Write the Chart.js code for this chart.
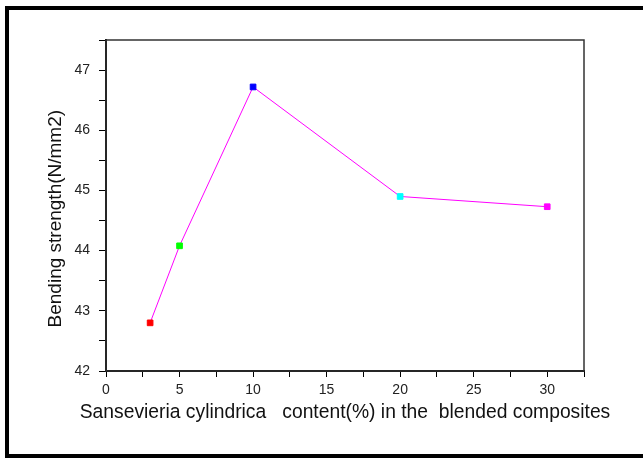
<!DOCTYPE html>
<html lang="en">
<head>
    <title>Bending strength</title>
    <script src="https://cdn.jsdelivr.net/npm/chart.js"></script>
    <style>
        body { margin: 0; background: #fff; overflow: hidden; }
        #wrap { position: relative; width: 643px; height: 458px; overflow: hidden; }
        #frame { position: absolute; left: 5px; top: 6px; width: 650px; height: 444px;
                 border-left: 4px solid #000; border-top: 4px solid #000; border-bottom: 4px solid #000;
                 pointer-events: none; }
        canvas { display: block; }
    </style>
</head>
<body>
    <div id="wrap">
        <canvas id="chart" width="643" height="458"></canvas>
        <div id="frame"></div>
    </div>

    <script>
        // fibre content (%) and bending strength (N/mm2)
        var content = [3, 5, 10, 20, 30];
        var strength = [42.8, 44.08, 46.72, 44.9, 44.73];
        var pointColors = ['#ff0000', '#00ff00', '#0000ff', '#00ffff', '#ff00ff'];

        var xLabels = [0, 5, 10, 15, 20, 25, 30];
        var yLabels = [42, 43, 44, 45, 46, 47];
        var xTitle = 'Sansevieria cylindrica   content(%) in the  blended composites';
        var yTitle = 'Bending strength(N/mm2)';

        var font = "'Liberation Sans', Arial, sans-serif";

        // box around the plot area (top and right sides have no ticks),
        // plus the x title, which is wider than the plot and would be squeezed by the scale
        var boxPlugin = {
            id: 'box',
            afterDraw: function(chart) {
                var a = chart.chartArea, ctx = chart.ctx;
                ctx.save();
                ctx.strokeStyle = '#333';
                ctx.lineWidth = 1.5;
                ctx.strokeRect(a.left, a.top, a.right - a.left, a.bottom - a.top);

                ctx.fillStyle = '#111';
                ctx.font = '19.3px ' + font;
                ctx.textAlign = 'center';
                ctx.textBaseline = 'middle';
                ctx.fillText(xTitle, (a.left + a.right) / 2, a.bottom + 42);
                ctx.restore();
            }
        };

        var ctx = document.getElementById('chart').getContext('2d');
        var chart = new Chart(ctx, {
            type: 'scatter',
            data: {
                datasets: [{
                    data: content.map(function(c, i) { return { x: c, y: strength[i] }; }),
                    showLine: true,
                    borderColor: '#ff00ff',
                    borderWidth: 1,
                    pointStyle: 'rect',
                    pointRadius: 4,
                    pointBackgroundColor: pointColors,
                    pointBorderColor: pointColors,
                    pointBorderWidth: 1
                }]
            },
            options: {
                responsive: false,
                animation: false,
                layout: { padding: { left: 0, top: 40, right: 59, bottom: 0 } },
                plugins: { legend: { display: false }, tooltip: { enabled: false } },
                scales: {
                    x: {
                        min: 0, max: 32.5,
                        afterFit: function(s) { s.height = 87; },
                        grid: { drawOnChartArea: false, drawTicks: true, tickLength: 6, color: '#000' },
                        border: { color: '#000', width: 2 },
                        ticks: {
                            stepSize: 2.5, autoSkip: false, maxRotation: 0, padding: 5,
                            color: '#222', font: { family: font, size: 14 },
                            callback: function(v) { return xLabels.indexOf(v) >= 0 ? String(v) : ''; }
                        }
                    },
                    y: {
                        min: 42, max: 47.5,
                        afterFit: function(s) { s.width = 106; },
                        grid: { drawOnChartArea: false, drawTicks: true, tickLength: 7, color: '#000' },
                        border: { color: '#000', width: 2 },
                        ticks: {
                            stepSize: 0.5, autoSkip: false, padding: 9,
                            color: '#222', font: { family: font, size: 14 },
                            callback: function(v) { return yLabels.indexOf(v) >= 0 ? String(v) : ''; }
                        },
                        title: {
                            // trailing spaces nudge the rotated title downward a little
                            display: true, text: yTitle + '     ',
                            color: '#111', font: { family: font, size: 19 }, padding: { top: 44, bottom: 0 }
                        }
                    }
                }
            },
            plugins: [boxPlugin]
        });
    </script>
</body>
</html>
